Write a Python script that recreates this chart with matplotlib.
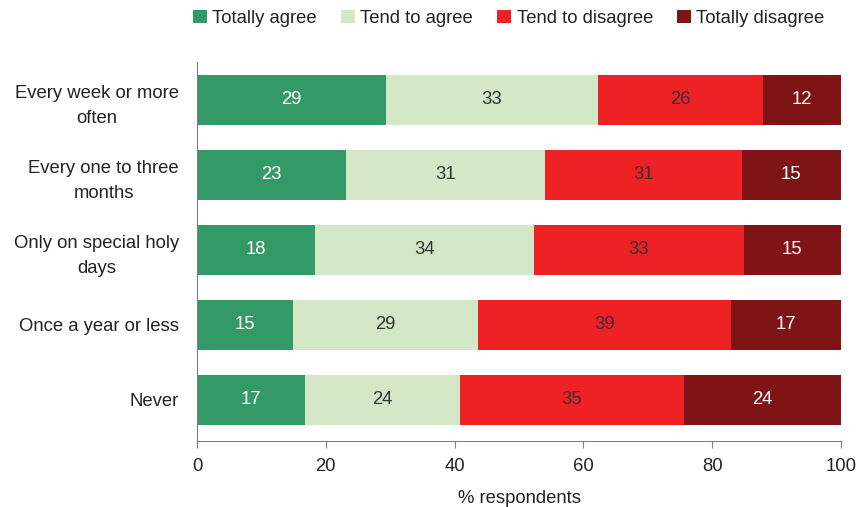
import numpy as np
import matplotlib
matplotlib.use('Agg')
from matplotlib import pyplot as plt

plt.rcParams['font.family'] = ['Liberation Sans', 'DejaVu Sans']

categories = ['Every week or more\noften',
              'Every one to three\nmonths',
              'Only on special holy\ndays',
              'Once a year or less',
              'Never']
series_names = ['Totally agree', 'Tend to agree', 'Tend to disagree', 'Totally disagree']

totally_agree = [29.3, 23.1, 18.4, 14.9, 16.7]
tend_agree = [33.0, 30.9, 33.9, 28.7, 24.1]
tend_disagree = [25.6, 30.6, 32.6, 39.3, 34.8]
totally_disagree = [12.1, 15.4, 15.1, 17.1, 24.4]

colors = ['#339966', '#d4e8c8', '#ee2124', '#7f1416']
text_colors = ['white', '#333333', '#333333', 'white']
fs = 13.3

fig = plt.figure(figsize=(8.58, 5.07), dpi=100)
ax = fig.add_axes([0.2296, 0.130, 0.7506, 0.747])

y = np.arange(len(categories))
left = np.zeros(len(categories))
all_series = [totally_agree, tend_agree, tend_disagree, totally_disagree]
for vals, name, col, tcol in zip(all_series, series_names, colors, text_colors):
    vals = np.array(vals)
    ax.barh(y, vals, left=left, height=0.667, color=col, label=name)
    for yi, (l, v) in enumerate(zip(left, vals)):
        ax.text(l + v / 2, yi, f'{round(v):d}', ha='center', va='center',
                color=tcol, fontsize=fs)
    left += vals

ax.set_xlim(0, 100)
ax.set_ylim(4.55, -0.5)
ax.set_xticks([0, 20, 40, 60, 80, 100])
ax.set_yticks(y)
ax.set_yticklabels(categories, multialignment='center', linespacing=1.6)
ax.tick_params(axis='x', length=5, color='#808080', labelsize=fs,
               labelcolor='#222222', pad=7)
ax.tick_params(axis='y', length=0, labelsize=fs, labelcolor='#222222', pad=13)
for side in ['top', 'right']:
    ax.spines[side].set_visible(False)
for side in ['left', 'bottom']:
    ax.spines[side].set_color('#808080')
ax.set_xlabel('% respondents', fontsize=fs, color='#222222', labelpad=11)

fig.legend(loc='center', bbox_to_anchor=(0.593, 0.964), ncol=4, frameon=False,
           fontsize=fs, handlelength=0.75, handleheight=0.75, handletextpad=0.3,
           columnspacing=1.3, labelcolor='#222222')

fig.savefig('out.png', dpi=100)
